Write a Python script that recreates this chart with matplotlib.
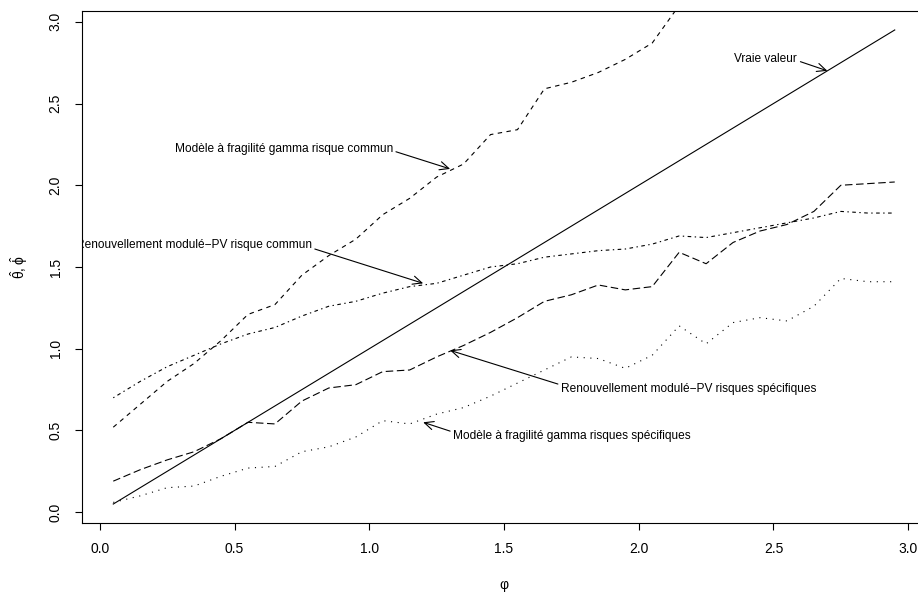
import matplotlib
matplotlib.use("Agg")
import matplotlib.pyplot as plt

# Data
phi = [0.05, 0.15, 0.25, 0.35, 0.45, 0.55, 0.65, 0.75, 0.85, 0.95,
       1.05, 1.15, 1.25, 1.35, 1.45, 1.55, 1.65, 1.75, 1.85, 1.95,
       2.05, 2.15, 2.25, 2.35, 2.45, 2.55, 2.65, 2.75, 2.85, 2.95]

true_x = [0.05, 2.95]
true_y = [0.05, 2.95]

# goes out of the top of the frame after phi = 2.15
gamma_commun = [0.52, 0.66, 0.80, 0.91, 1.05, 1.21, 1.27, 1.45, 1.57, 1.67,
                1.82, 1.92, 2.05, 2.13, 2.31, 2.34, 2.59, 2.63, 2.69, 2.77,
                2.87, 3.10]

pv_commun = [0.70, 0.80, 0.89, 0.96, 1.03, 1.09, 1.13, 1.20, 1.26, 1.29,
             1.34, 1.38, 1.40, 1.45, 1.50, 1.52, 1.56, 1.58, 1.60, 1.61,
             1.64, 1.69, 1.68, 1.71, 1.74, 1.77, 1.80, 1.84, 1.83, 1.83]

pv_specif = [0.19, 0.26, 0.32, 0.37, 0.45, 0.55, 0.54, 0.68, 0.76, 0.78,
             0.86, 0.87, 0.95, 1.02, 1.10, 1.19, 1.29, 1.33, 1.39, 1.36,
             1.38, 1.59, 1.52, 1.65, 1.72, 1.76, 1.84, 2.00, 2.01, 2.02]

gamma_specif = [0.06, 0.10, 0.15, 0.16, 0.22, 0.27, 0.28, 0.37, 0.40, 0.46,
                0.56, 0.54, 0.60, 0.64, 0.71, 0.79, 0.87, 0.95, 0.94, 0.88,
                0.96, 1.14, 1.03, 1.16, 1.19, 1.17, 1.26, 1.43, 1.41, 1.41]

ticks = [0.0, 0.5, 1.0, 1.5, 2.0, 2.5, 3.0]
tick_labels = ["0.0", "0.5", "1.0", "1.5", "2.0", "2.5", "3.0"]

# (label, arrow tip, arrow start, text anchor, alignment)
notes = [
    ("Vraie valeur", (2.70, 2.70), (2.60, 2.756), (2.588, 2.772), "right"),
    ("Modèle à fragilité gamma risque commun", (1.30, 2.10), (1.099, 2.205), (1.088, 2.223), "right"),
    ("Renouvellement modulé\u2212PV risque commun", (1.20, 1.40), (0.798, 1.61), (0.787, 1.635), "right"),
    ("Renouvellement modulé\u2212PV risques spécifiques", (1.30, 0.99), (1.70, 0.784), (1.712, 0.753), "left"),
    ("Modèle à fragilité gamma risques spécifiques", (1.20, 0.55), (1.30, 0.496), (1.311, 0.465), "left"),
]

plt.rcParams["font.family"] = ["Liberation Sans", "DejaVu Sans"]
plt.rcParams["lines.scale_dashes"] = False
plt.rcParams["mathtext.default"] = "regular"

fig = plt.figure(figsize=(9.18, 5.96), dpi=100)
# the right edge of the R frame is cut off in the reference
ax = fig.add_axes([82 / 918, 73 / 596, 844 / 918, 512 / 596])

lw = 0.8
ax.plot(true_x, true_y, color="black", lw=lw)
ax.plot(phi[:len(gamma_commun)], gamma_commun, color="black", lw=lw,
        dashes=(3.2, 3.2))
ax.plot(phi, pv_commun, color="black", lw=lw, dashes=(1.0, 2.5, 2.6, 2.5))
ax.plot(phi, pv_specif, color="black", lw=lw, dashes=(5.4, 2.6))
ax.plot(phi, gamma_specif, color="black", lw=lw, dashes=(0.8, 4.0))

for label, tip, start, pos, ha in notes:
    ax.annotate("", xy=tip, xytext=start,
                arrowprops=dict(arrowstyle="->,head_length=0.65,head_width=0.3",
                                lw=lw, color="black", shrinkA=0, shrinkB=0))
    ax.text(pos[0], pos[1], label, ha=ha, va="center", fontsize=8.6,
            clip_on=True)

ax.set_xlim(-0.066, 3.066)
ax.set_ylim(-0.066, 3.066)
ax.set_xticks(ticks)
ax.set_xticklabels(tick_labels)
ax.set_yticks(ticks)
ax.set_yticklabels(tick_labels, rotation=90, va="center")
ax.tick_params(direction="out", length=5, width=lw, labelsize=10, pad=9)

for side in ["left", "bottom", "top", "right"]:
    ax.spines[side].set_linewidth(lw)

ax.set_xlabel("φ", fontsize=10, va="center")
ax.xaxis.set_label_coords(0.5, -0.121)
ax.set_ylabel(r"$\hat{\theta},\hat{\phi}$", fontsize=10, va="center")
ax.yaxis.set_label_coords(-0.0746, 0.5)

fig.savefig("out.png", dpi=100)
